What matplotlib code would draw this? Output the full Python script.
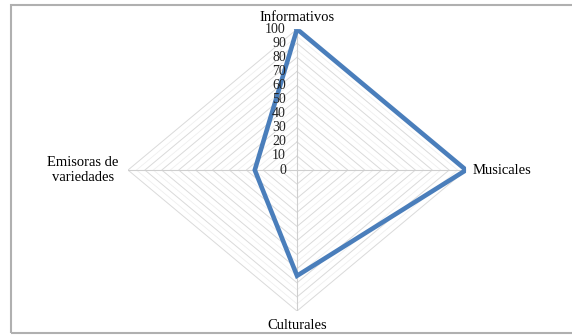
import numpy as np
import matplotlib.pyplot as plt
from matplotlib.patches import Rectangle

categories = ['Informativos', 'Musicales', 'Culturales', 'Emisoras de\nvariedades']
values = [100, 100, 75, 25]
ticks = [0, 10, 20, 30, 40, 50, 60, 70, 80, 90, 100]

plt.rcParams['font.family'] = ['Liberation Serif', 'DejaVu Serif']

fig = plt.figure(figsize=(5.72, 3.36), dpi=100)
fig.patch.set_facecolor('white')

# outer frame of the chart area
fig.add_artist(Rectangle((11 / 572, 3 / 336), 1.2, 328 / 336, transform=fig.transFigure,
                         fill=False, edgecolor='#b0b0b0', linewidth=1.5))

ax = fig.add_axes([0.2238, 0.0744, 0.591, 0.839], projection='polar')
ax.set_aspect('auto')
ax.set_theta_offset(np.pi / 2)
ax.set_theta_direction(-1)
ax.set_ylim(0, 100)
ax.grid(False)
ax.set_xticks([])
ax.set_yticks([])
ax.spines['polar'].set_visible(False)
ax.patch.set_alpha(0)

n = len(categories)
theta = np.arange(n) * 2 * np.pi / n
theta_c = np.append(theta, theta[0])

# minor and major polygon grid
for r in np.arange(5, 100, 10):
    ax.plot(theta_c, [r] * (n + 1), color='#efefef', lw=0.6, zorder=1)
for r in ticks[1:]:
    ax.plot(theta_c, [r] * (n + 1), color='#dadada', lw=0.7, zorder=1)
for t in theta:
    ax.plot([t, t], [0, 100], color='#cfcfcf', lw=0.8, zorder=1)

vals = values + values[:1]
ax.plot(theta_c, vals, color='#4a7ebb', lw=3.3, solid_joinstyle='miter', zorder=3)

# radial tick labels along the top axis
for t in ticks:
    ax.annotate(str(t), xy=(0, t), xytext=(-8, 0), textcoords='offset points',
                ha='right', va='center', fontsize=10, color='#222222')

# category labels
ax.annotate(categories[0], xy=(0, 100), xytext=(0, 4), textcoords='offset points',
            ha='center', va='bottom', fontsize=10.5)
ax.annotate(categories[1], xy=(theta[1], 100), xytext=(5, 0), textcoords='offset points',
            ha='left', va='center', fontsize=10.5)
ax.annotate(categories[2], xy=(theta[2], 100), xytext=(0, -6), textcoords='offset points',
            ha='center', va='top', fontsize=10.5)
ax.annotate(categories[3], xy=(theta[3], 100), xytext=(-7, 0), textcoords='offset points',
            ha='right', va='center', fontsize=10.5, multialignment='center')

fig.savefig('out.png', dpi=100)
